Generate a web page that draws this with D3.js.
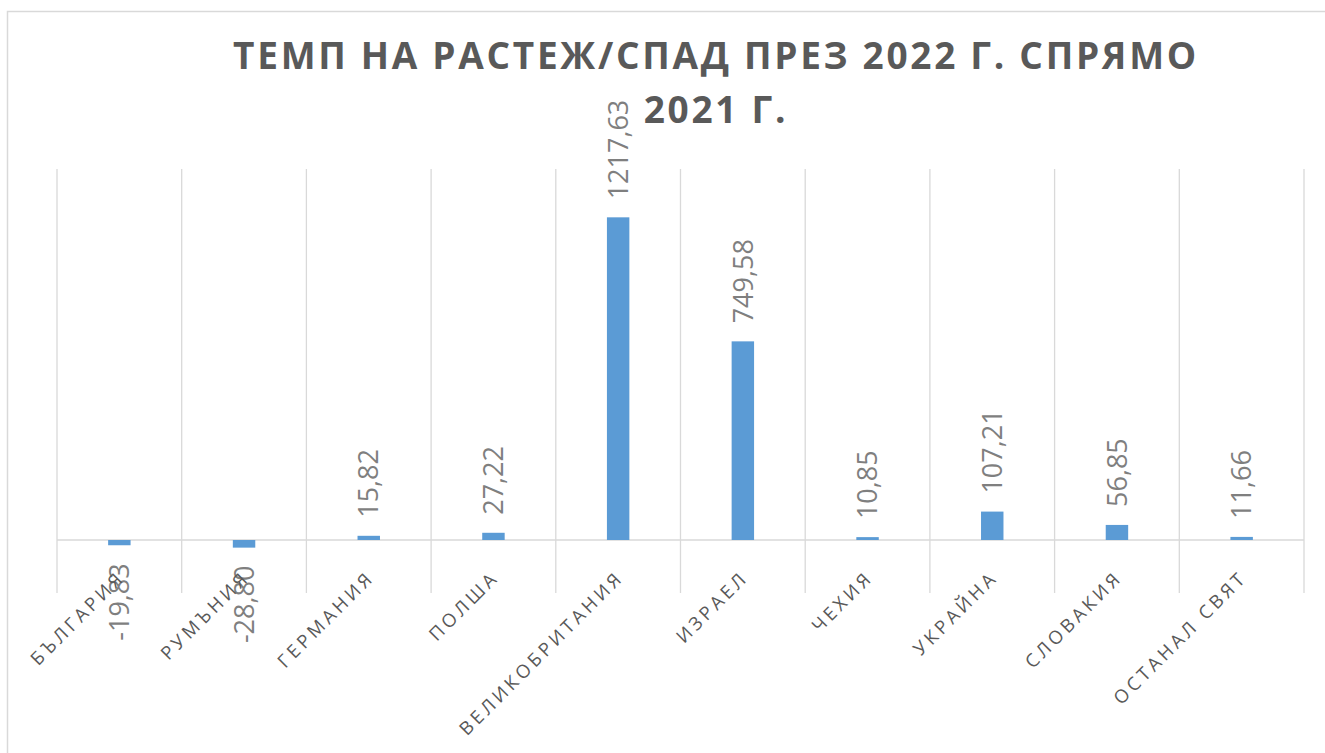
<!DOCTYPE html>
<html>
<head>
<meta charset="utf-8">
<script src="https://cdn.jsdelivr.net/npm/d3@7"></script>
<style>
  body { margin: 0; background: #fff; }
  svg { display: block; }
</style>
</head>
<body>
<div id="chart"></div>
<script>
var countries = ["България", "Румъния", "Германия", "Полша", "Великобритания",
                 "Израел", "Чехия", "Украйна", "Словакия", "Останал свят"];
var growth = [-19.83, -28.80, 15.82, 27.22, 1217.63, 749.58, 10.85, 107.21, 56.85, 11.66];
var titleLines = ["ТЕМП НА РАСТЕЖ/СПАД ПРЕЗ 2022 Г. СПРЯМО", "2021 Г."];

var width = 1325, height = 753;
var plot = { left: 57, right: 1304, top: 169, bottom: 593 };

var svg = d3.select("#chart").append("svg")
    .attr("width", width)
    .attr("height", height);

// outer chart frame (runs off the right and bottom edges)
svg.append("rect")
    .attr("x", 7.5).attr("y", 11.5)
    .attr("width", 1340).attr("height", 770)
    .style("fill", "#fff")
    .style("stroke", "#d9d9d9")
    .style("stroke-width", 1.5);

var x = d3.scaleBand()
    .domain(countries)
    .range([plot.left, plot.right])
    .padding(0);

var y = d3.scaleLinear()
    .domain([-200, 1400])
    .range([plot.bottom, plot.top]);

// vertical gridlines between categories
var edges = countries.map(function(c) { return x(c); }).concat([x.range()[1]]);
svg.selectAll(".grid")
    .data(edges)
    .enter().append("line")
    .attr("x1", function(d) { return d; })
    .attr("x2", function(d) { return d; })
    .attr("y1", plot.top)
    .attr("y2", plot.bottom)
    .style("stroke", "#d9d9d9")
    .style("stroke-width", 1.3);

// zero line
svg.append("line")
    .attr("x1", plot.left).attr("x2", plot.right)
    .attr("y1", y(0)).attr("y2", y(0))
    .style("stroke", "#d9d9d9")
    .style("stroke-width", 1.6);

var barW = x.bandwidth() * 0.18;
var data = countries.map(function(c, i) { return { name: c, value: growth[i] }; });

svg.selectAll(".bar")
    .data(data)
    .enter().append("rect")
    .attr("x", function(d) { return x(d.name) + x.bandwidth() / 2 - barW / 2; })
    .attr("width", barW)
    .attr("y", function(d) { return y(Math.max(0, d.value)); })
    .attr("height", function(d) { return Math.abs(y(d.value) - y(0)); })
    .style("fill", "#5b9bd5");

// value labels, rotated
var fmt = function(v) { return d3.format(".2f")(v).replace(".", ",").replace("−", "-"); };
svg.selectAll(".val")
    .data(data)
    .enter().append("text")
    .attr("transform", function(d) {
        var cx = x(d.name) + x.bandwidth() / 2;
        var cy = d.value >= 0 ? y(d.value) - 18 : y(d.value) + 18;
        return "translate(" + cx + "," + cy + ") rotate(-90)";
    })
    .attr("dy", "0.36em")
    .attr("text-anchor", function(d) { return d.value >= 0 ? "start" : "end"; })
    .style("font-family", "'Open Sans', sans-serif")
    .style("font-size", "27px")
    .style("fill", "#7f7f7f")
    .text(function(d) { return fmt(d.value); });

// category labels at 45 degrees
svg.selectAll(".cat")
    .data(countries)
    .enter().append("text")
    .attr("transform", function(d) {
        return "translate(" + (x(d) + x.bandwidth() / 2 + 2) + ",574) rotate(-45)";
    })
    .attr("dy", "0.36em")
    .attr("text-anchor", "end")
    .style("font-family", "'Open Sans', sans-serif")
    .style("font-size", "18.5px")
    .style("letter-spacing", "3.6px")
    .style("fill", "#595959")
    .text(function(d) { return d.toUpperCase(); });

// title
svg.selectAll(".title")
    .data(titleLines)
    .enter().append("text")
    .attr("x", 716)
    .attr("y", function(d, i) { return 69 + i * 54; })
    .attr("text-anchor", "middle")
    .style("font-family", "'Open Sans', sans-serif")
    .style("font-weight", "bold")
    .style("font-size", "37px")
    .style("letter-spacing", "2.7px")
    .style("fill", "#595959")
    .text(function(d) { return d; });
</script>
</body>
</html>
